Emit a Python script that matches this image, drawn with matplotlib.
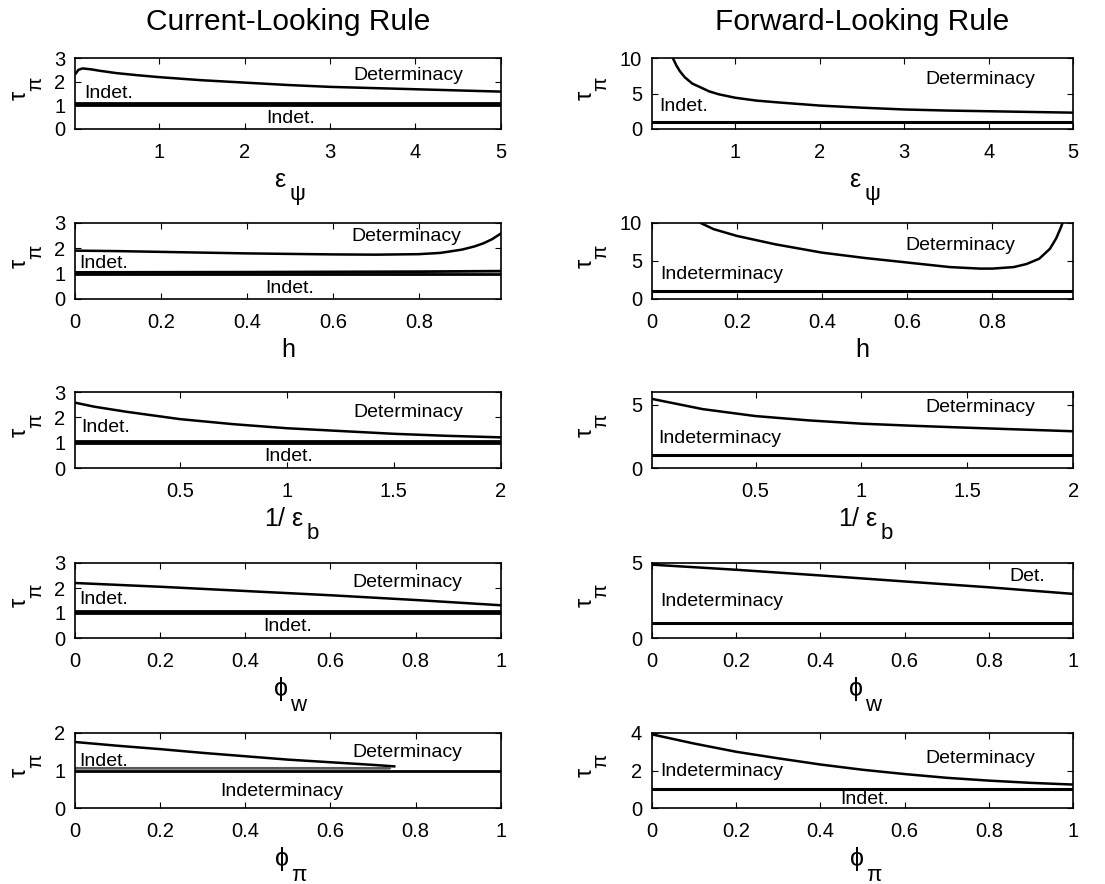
import matplotlib.pyplot as plt
import numpy as np

###########################################################################################################################
# Data
###########################################################################################################################

# current-looking rule, boundary curves
cur_eps_x = [0.02, 0.05, 0.1, 0.2, 0.3, 0.5, 0.75, 1.0, 1.5, 2.0, 2.5, 3.0, 3.5, 4.0, 4.5, 5.0]
cur_eps_y = [2.35, 2.5, 2.56, 2.52, 2.46, 2.36, 2.27, 2.19, 2.06, 1.96, 1.86, 1.78, 1.73, 1.68, 1.63, 1.58]
cur_eps_low_x = [0.02, 5.0]
cur_eps_low_y = [1.08, 1.08]

cur_h_x = [0.0, 0.1, 0.2, 0.3, 0.4, 0.5, 0.6, 0.7, 0.8, 0.85, 0.9, 0.93, 0.95, 0.97, 0.99]
cur_h_y = [1.91, 1.89, 1.86, 1.83, 1.80, 1.78, 1.76, 1.75, 1.77, 1.82, 1.95, 2.08, 2.2, 2.36, 2.58]
cur_h_low_x = [0.0, 0.4, 0.8, 0.99]
cur_h_low_y = [1.05, 1.06, 1.08, 1.1]

cur_eb_x = [0.01, 0.1, 0.25, 0.5, 0.75, 1.0, 1.25, 1.5, 1.75, 2.0]
cur_eb_y = [2.58, 2.42, 2.22, 1.93, 1.73, 1.57, 1.46, 1.35, 1.27, 1.21]
cur_eb_low_x = [0.01, 2.0]
cur_eb_low_y = [1.07, 1.07]

cur_phiw_x = [0.0, 0.2, 0.4, 0.6, 0.8, 1.0]
cur_phiw_y = [2.2, 2.05, 1.88, 1.71, 1.52, 1.31]
cur_phiw_low_x = [0.0, 1.0]
cur_phiw_low_y = [1.07, 1.07]

cur_phipi_x = [0.0, 0.1, 0.2, 0.3, 0.4, 0.5, 0.6, 0.7, 0.75]
cur_phipi_y = [1.76, 1.66, 1.57, 1.47, 1.38, 1.29, 1.22, 1.15, 1.11]
cur_phipi_low_x = [0.0, 0.74]
cur_phipi_low_y = [1.07, 1.07]

# forward-looking rule, boundary curves
fwd_eps_x = [0.2, 0.22, 0.26, 0.3, 0.34, 0.4, 0.49, 0.6, 0.69, 0.8, 1.0, 1.25, 1.5, 2.0, 2.5, 3.0, 3.5, 4.0, 4.5, 5.0]
fwd_eps_y = [13.5, 12.0, 10.0, 9.0, 8.2, 7.3, 6.4, 5.8, 5.3, 4.9, 4.4, 4.0, 3.75, 3.3, 3.0, 2.75, 2.6, 2.5, 2.4, 2.3]

fwd_h_x = [0.1, 0.115, 0.145, 0.2, 0.29, 0.4, 0.5, 0.6, 0.7, 0.77, 0.8, 0.85, 0.88, 0.91, 0.935, 0.95, 0.96, 0.968]
fwd_h_y = [11.5, 10.0, 9.2, 8.3, 7.2, 6.1, 5.4, 4.8, 4.2, 4.0, 4.0, 4.2, 4.6, 5.3, 6.6, 8.0, 9.3, 10.5]

fwd_eb_x = [0.01, 0.25, 0.5, 0.75, 1.0, 1.25, 1.5, 1.75, 2.0]
fwd_eb_y = [5.46, 4.65, 4.1, 3.76, 3.5, 3.33, 3.18, 3.04, 2.9]

fwd_phiw_x = [0.0, 0.2, 0.4, 0.6, 0.8, 1.0]
fwd_phiw_y = [4.89, 4.55, 4.17, 3.77, 3.38, 2.94]

fwd_phipi_x = [0.0, 0.1, 0.2, 0.3, 0.4, 0.5, 0.6, 0.7, 0.8, 0.9, 1.0]
fwd_phipi_y = [3.93, 3.44, 3.0, 2.65, 2.32, 2.04, 1.81, 1.61, 1.46, 1.34, 1.25]

tau_one = 1.0  # the tau_pi = 1 boundary

###########################################################################################################################
# Function definitions
###########################################################################################################################

PT = 0.72  # points per pixel at dpi 100


def fig_rect(x_left, x_right, y_top, y_bottom):
    # pixel box -> figure fraction
    return [x_left / 1105, 1 - y_bottom / 884, (x_right - x_left) / 1105, (y_bottom - y_top) / 884]


def xlabel_with_sub(ax, main, sub, dx):
    # matlab style label: symbol plus a big, low subscript
    t = ax.annotate(main, xy=(0.5, 0), xycoords="axes fraction", xytext=(dx * PT, -58 * PT),
                    textcoords="offset points", ha="center", va="baseline", fontsize=18)
    if sub:
        ax.annotate(sub, xy=(1, 0), xycoords=t, xytext=(2 * PT, -8 * PT), textcoords="offset points",
                    ha="left", va="baseline", fontsize=16)


def ylabel_tau(ax, dx):
    # tau with pi subscript, turned 90 degrees
    ax.annotate(r"$\tau$", xy=(0, 0.5), xycoords="axes fraction", xytext=(dx * PT, -2 * PT),
                textcoords="offset points", ha="center", va="center", fontsize=17, rotation=90)
    ax.annotate(r"$\pi$", xy=(0, 0.5), xycoords="axes fraction", xytext=((dx + 16) * PT, 9 * PT),
                textcoords="offset points", ha="center", va="center", fontsize=15, rotation=90)


def setup_axes(ax, xlim, ylim, xticks, yticks, xlab, ylab_dx):
    ax.set_xlim(xlim)
    ax.set_ylim(ylim)
    ax.set_xticks(xticks)
    ax.set_yticks(yticks)
    ax.set_xticklabels([("%g" % t) for t in xticks])
    ax.set_yticklabels([("%g" % t) for t in yticks])
    ax.tick_params(direction="in", top=True, right=True, length=4, width=0.8, labelsize=14.5)
    ax.tick_params(axis="x", pad=10)
    ax.tick_params(axis="y", pad=7)
    for s in ax.spines.values():
        s.set_linewidth(1.2)
    main, sub, dx = xlab
    xlabel_with_sub(ax, main, sub, dx)
    ylabel_tau(ax, ylab_dx)


###########################################################################################################################
# Start of program
###########################################################################################################################

plt.rcParams["font.family"] = ["Liberation Sans", "DejaVu Sans"]
plt.rcParams["mathtext.fontset"] = "custom"
plt.rcParams["mathtext.rm"] = "Liberation Sans"
plt.rcParams["mathtext.it"] = "Liberation Sans"
plt.rcParams["mathtext.bf"] = "Liberation Sans:bold"

fig = plt.figure(figsize=(11.05, 8.84), dpi=100)

rows = [(58, 129), (223, 299), (392, 468), (563, 638), (733, 808)]
left_col = (75, 500.7)
right_col = (651.7, 1073.3)

# (main symbol, subscript, x shift of main in px)
xlabels = [(r"$\varepsilon$", r"$\psi$", -7), ("h", "", 0), (r"1/ $\varepsilon$", "b", -4),
           (r"$\phi$", "w", -7), (r"$\phi$", r"$\pi$", -6)]

cur_curves = [(cur_eps_x, cur_eps_y), (cur_h_x, cur_h_y), (cur_eb_x, cur_eb_y),
              (cur_phiw_x, cur_phiw_y), (cur_phipi_x, cur_phipi_y)]
cur_lows = [(cur_eps_low_x, cur_eps_low_y), (cur_h_low_x, cur_h_low_y), (cur_eb_low_x, cur_eb_low_y),
            (cur_phiw_low_x, cur_phiw_low_y), (cur_phipi_low_x, cur_phipi_low_y)]
fwd_curves = [(fwd_eps_x, fwd_eps_y), (fwd_h_x, fwd_h_y), (fwd_eb_x, fwd_eb_y),
              (fwd_phiw_x, fwd_phiw_y), (fwd_phipi_x, fwd_phipi_y)]

xlims = [(0.01, 5), (0, 0.99), (0.01, 2), (0, 1), (0, 1)]
xticks_all = [[1, 2, 3, 4, 5], [0, 0.2, 0.4, 0.6, 0.8], [0.5, 1, 1.5, 2],
              [0, 0.2, 0.4, 0.6, 0.8, 1], [0, 0.2, 0.4, 0.6, 0.8, 1]]
cur_ylims = [(0, 3), (0, 3), (0, 3), (0, 3), (0, 2)]
cur_yticks = [[0, 1, 2, 3], [0, 1, 2, 3], [0, 1, 2, 3], [0, 1, 2, 3], [0, 1, 2]]
fwd_ylims = [(0, 10), (0, 10), (0, 6), (0, 5), (0, 4)]
fwd_yticks = [[0, 5, 10], [0, 5, 10], [0, 5], [0, 5], [0, 2, 4]]

# region labels: (x, y, text, ha)
cur_texts = [
    [(3.92, 2.27, "Determinacy", "center"), (0.12, 1.5, "Indet.", "left"), (2.54, 0.45, "Indet.", "center")],
    [(0.77, 2.45, "Determinacy", "center"), (0.01, 1.42, "Indet.", "left"), (0.5, 0.43, "Indet.", "center")],
    [(1.57, 2.2, "Determinacy", "center"), (0.04, 1.6, "Indet.", "left"), (1.01, 0.44, "Indet.", "center")],
    [(0.78, 2.22, "Determinacy", "center"), (0.01, 1.54, "Indet.", "left"), (0.5, 0.47, "Indet.", "center")],
    [(0.78, 1.47, "Determinacy", "center"), (0.01, 1.24, "Indet.", "left"), (0.486, 0.45, "Indeterminacy", "center")],
]
fwd_texts = [
    [(3.9, 7.0, "Determinacy", "center"), (0.1, 3.2, "Indet.", "left")],
    [(0.725, 7.0, "Determinacy", "center"), (0.02, 3.2, "Indeterminacy", "left")],
    [(1.56, 4.8, "Determinacy", "center"), (0.04, 2.35, "Indeterminacy", "left")],
    [(0.89, 4.08, "Det.", "center"), (0.02, 2.42, "Indeterminacy", "left")],
    [(0.78, 2.65, "Determinacy", "center"), (0.02, 1.95, "Indeterminacy", "left"), (0.505, 0.46, "Indet.", "center")],
]

for i in range(5):
    top, bottom = rows[i]

    # current-looking rule (left column)
    ax = fig.add_axes(fig_rect(left_col[0], left_col[1], top, bottom))
    cx, cy = cur_curves[i]
    lx, ly = cur_lows[i]
    ax.plot(cx, cy, color="black", linewidth=1.8)
    ax.plot(xlims[i], [tau_one, tau_one], color="black", linewidth=2.0)
    if i == 4:
        ax.fill_between(lx, [tau_one, tau_one], ly, color="0.55", linewidth=0)
        ax.plot(lx, ly, color="0.35", linewidth=1.5)
    else:
        ax.plot(lx, ly, color="black", linewidth=2.0)
    setup_axes(ax, xlims[i], cur_ylims[i], xticks_all[i], cur_yticks[i], xlabels[i], -55)
    for tx, ty, s, ha in cur_texts[i]:
        ax.text(tx, ty, s, fontsize=14, ha=ha, va="center")

    # forward-looking rule (right column)
    ax = fig.add_axes(fig_rect(right_col[0], right_col[1], top, bottom))
    fx, fy = fwd_curves[i]
    ax.plot(fx, fy, color="black", linewidth=1.8)
    ax.plot(xlims[i], [tau_one, tau_one], color="black", linewidth=2.2)
    setup_axes(ax, xlims[i], fwd_ylims[i], xticks_all[i], fwd_yticks[i], xlabels[i], -66)
    for tx, ty, s, ha in fwd_texts[i]:
        ax.text(tx, ty, s, fontsize=14, ha=ha, va="center")

fig.text((left_col[0] + left_col[1]) / 2 / 1105, 1 - 22 / 884, "Current-Looking Rule", fontsize=21.5, ha="center", va="center")
fig.text((right_col[0] + right_col[1]) / 2 / 1105, 1 - 22 / 884, "Forward-Looking Rule", fontsize=21.5, ha="center", va="center")

fig.savefig("out.png", dpi=100)
